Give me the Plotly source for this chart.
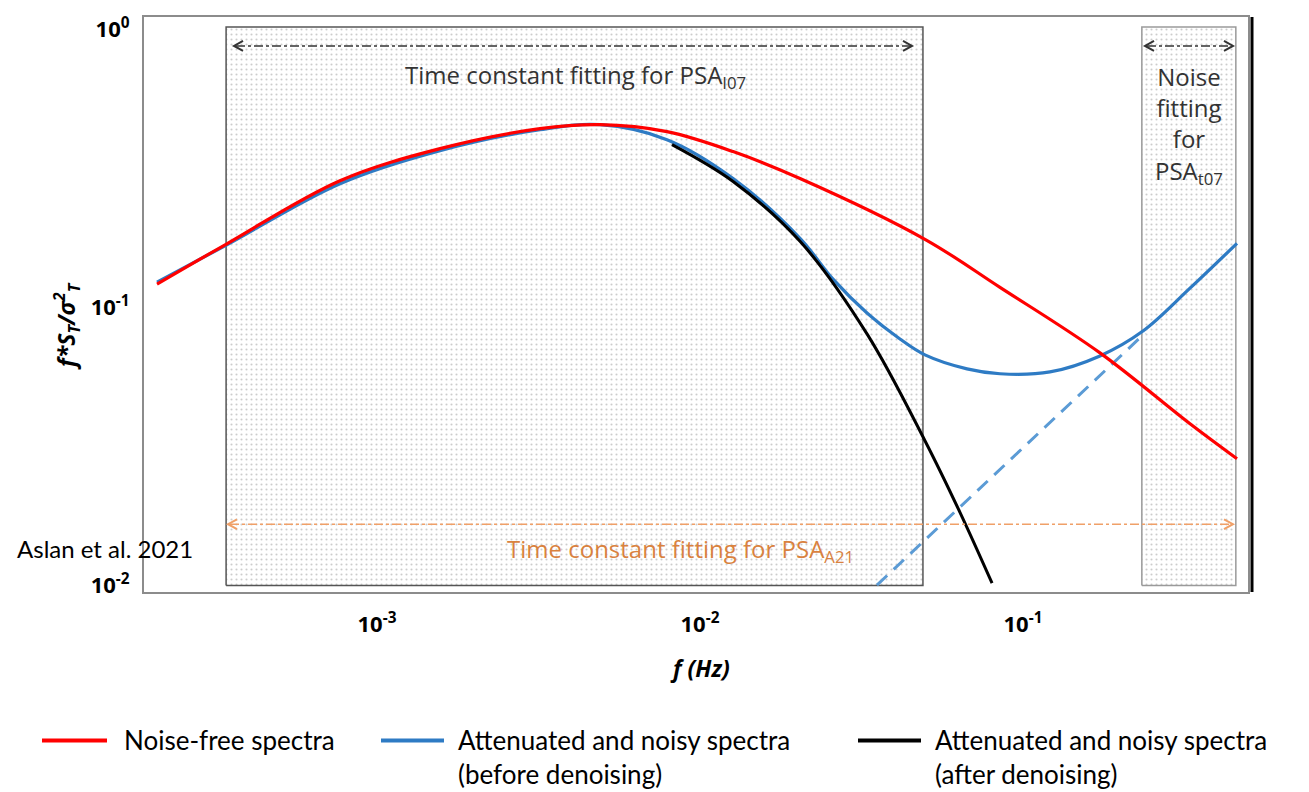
import plotly.graph_objects as go

# ---------------- data ----------------
red_f = [2.084e-4, 3.407e-4, 7.68e-4, 1.567e-3, 3.196e-3, 4.903e-3, 7.90e-3, 0.01266,
         0.0204, 0.04971, 0.08487, 0.1731, 0.3289, 0.4597]
red_s = [0.1214, 0.1689, 0.2860, 0.3729, 0.4398, 0.4546, 0.4291, 0.3638,
         0.2912, 0.1760, 0.1182, 0.0687, 0.0382, 0.0286]

blue_f = [2.084e-4, 3.407e-4, 7.68e-4, 1.567e-3, 3.196e-3, 4.903e-3, 7.90e-3, 0.01266,
          0.0204, 0.02581, 0.03289, 0.0416, 0.04971, 0.06708, 0.08487, 0.1212, 0.1731,
          0.2352, 0.3289, 0.4597]
blue_s = [0.1234, 0.1675, 0.2790, 0.3668, 0.4362, 0.4546, 0.4017, 0.2912,
          0.1775, 0.1265, 0.0956, 0.0771, 0.0676, 0.0602, 0.0578, 0.0587, 0.0670,
          0.0823, 0.1174, 0.1702]

black_f = [8.19e-3, 0.01266, 0.0204, 0.03289, 0.04971, 0.0638, 0.0802]
black_s = [0.3855, 0.2841, 0.1731, 0.0804, 0.0332, 0.01834, 0.0102]

noise_f = [0.0353, 0.2388]
noise_s = [0.01004, 0.0810]

# fitting regions (frequency bounds, spectral bounds)
tc_i07_region = [3.41e-4, 0.0490]
noise_i07_region = [0.2333, 0.456]
region_s = [0.01, 1.02]

x_ticks = [1e-3, 1e-2, 1e-1]
x_ticktext = ["10<sup>-3</sup>", "10<sup>-2</sup>", "10<sup>-1</sup>"]
y_ticks = [1e-2, 1e-1, 1]
y_ticktext = ["10<sup>-2</sup>", "10<sup>-1</sup>", "10<sup>0</sup>"]

legend_names = ["Noise-free spectra",
                "Attenuated and noisy spectra<br>(before denoising)",
                "Attenuated and noisy spectra<br>(after denoising)"]
legend_colors = ["#FF0000", "#2E7BC4", "#000000"]

# ---------------- layout geometry (pixels) ----------------
W, H = 1309, 792
L, R, T, B = 144, 1248, 15, 592


def px(x):
    return (x - L) / (R - L)


def py(y):
    return 1 - (y - T) / (B - T)


fig = go.Figure()

pattern = dict(shape=".", bgcolor="white", fgcolor="#9a9a9a", size=5, solidity=0.14)
for reg, lc in [(tc_i07_region, "#555555"), (noise_i07_region, "#9a9a9a")]:
    fig.add_trace(go.Scatter(
        x=[reg[0], reg[1], reg[1], reg[0], reg[0]],
        y=[region_s[0], region_s[0], region_s[1], region_s[1], region_s[0]],
        mode="lines", fill="toself", fillpattern=pattern, fillcolor="white",
        line=dict(color=lc, width=1.5), hoverinfo="skip", showlegend=False))

fig.add_trace(go.Scatter(x=noise_f, y=noise_s, mode="lines",
                         line=dict(color="#5B9BD5", width=3, dash="14px,9px"),
                         showlegend=False))
fig.add_trace(go.Scatter(x=blue_f, y=blue_s, mode="lines", line_shape="spline",
                         line=dict(color=legend_colors[1], width=3.2, smoothing=1.0),
                         showlegend=False))
fig.add_trace(go.Scatter(x=black_f, y=black_s, mode="lines", line_shape="spline",
                         line=dict(color=legend_colors[2], width=3, smoothing=1.0),
                         showlegend=False))
fig.add_trace(go.Scatter(x=red_f, y=red_s, mode="lines", line_shape="spline",
                         line=dict(color=legend_colors[0], width=3.2, smoothing=1.0),
                         showlegend=False))

shapes = []
annotations = []


def arrow(x0, x1, y, color, width=1.5):
    shapes.append(dict(type="line", xref="paper", yref="paper",
                       x0=px(x0 + 2), x1=px(x1 - 2), y0=py(y), y1=py(y),
                       line=dict(color=color, width=width, dash="dashdot")))
    for xe, d in [(x0, 1), (x1, -1)]:
        path = "M {} {} L {} {} L {} {}".format(px(xe + 9 * d), py(y - 5), px(xe), py(y),
                                               px(xe + 9 * d), py(y + 5))
        shapes.append(dict(type="path", xref="paper", yref="paper", path=path,
                           line=dict(color=color, width=2)))


arrow(234, 912, 44, "#333333")
arrow(1145, 1233, 44, "#333333")
arrow(228, 1233, 524, "#F0A068")

# right thick black edge
shapes.append(dict(type="line", xref="paper", yref="paper", x0=px(1252), x1=px(1252),
                   y0=py(15), y1=py(592), line=dict(color="black", width=3)))


def note(x, y, text, size, color="black", family="Open Sans", xanchor="center",
         yanchor="middle", **kw):
    annotations.append(dict(xref="paper", yref="paper", x=px(x), y=py(y), showarrow=False,
                            xanchor=xanchor, yanchor=yanchor, text=text,
                            font=dict(family=family, size=size, color=color), **kw))


# region texts
note(575, 74, "Time constant fitting for PSA<sub>I07</sub>", 24, "#333333")
note(1189, 123, "Noise<br>fitting<br>for<br>PSA<sub>t07</sub>", 24, "#333333", align="center")
note(680, 550, "Time constant fitting for PSA<sub>A21</sub>", 24, "#D9823F")
note(15, 548, "Aslan et al. 2021", 24, family="Lato", xanchor="left")

# axis titles
note(66, 325, "<b><i>f*S<sub>T</sub>/σ<sup>2</sup><sub>T</sub></i></b>", 23, textangle=-90)
note(700, 668, "<b><i>f (Hz)</i></b>", 23)

# manual legend
leg_x = [(42, 107, 122), (381, 444, 456), (858, 921, 933)]
for (a, b, t), name, c in zip(leg_x, legend_names, legend_colors):
    shapes.append(dict(type="line", xref="paper", yref="paper", x0=px(a), x1=px(b),
                       y0=py(741), y1=py(741), line=dict(color=c, width=4)))
    note(t, 722, name, 26, family="Lato", xanchor="left", yanchor="top", align="left")

fig.update_layout(
    width=W, height=H,
    margin=dict(l=L, r=W - R, t=T, b=H - B, pad=0),
    paper_bgcolor="white", plot_bgcolor="white",
    shapes=shapes, annotations=annotations,
    showlegend=False,
    xaxis=dict(type="log", range=[-3.7214, -0.3034], tickvals=x_ticks, ticktext=x_ticktext,
               showgrid=False, zeroline=False, showline=True, mirror=True,
               linecolor="#8c8c8c", linewidth=2, ticks="", ticklabelstandoff=12,
               tickfont=dict(family="Open Sans", size=22, color="black", weight="bold")),
    yaxis=dict(type="log", range=[-2.023, 0.045], tickvals=y_ticks, ticktext=y_ticktext,
               showgrid=False, zeroline=False, showline=True, mirror=True,
               linecolor="#8c8c8c", linewidth=2, ticks="", ticklabelstandoff=8,
               tickfont=dict(family="Open Sans", size=22, color="black", weight="bold")),
)

fig.write_html("out.html")
